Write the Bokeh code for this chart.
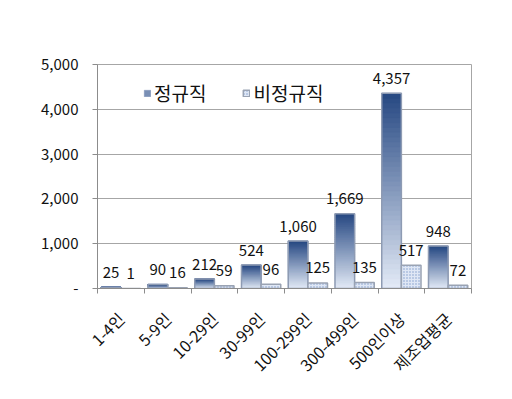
import math
from bokeh.plotting import figure
from bokeh.models import (ColumnDataSource, FixedTicker, NumeralTickFormatter,
                          Legend, LegendItem, Range1d)
from bokeh.core.properties import value
from bokeh.embed import file_html
from bokeh.resources import INLINE

categories = ["1-4인", "5-9인", "10-29인", "30-99인", "100-299인", "300-499인", "500인이상", "제조업평균"]
regular = [25, 90, 212, 524, 1060, 1669, 4357, 948]
irregular = [1, 16, 59, 96, 125, 135, 517, 72]
y_ticks = [0, 1000, 2000, 3000, 4000, 5000]

FONT = "Noto Sans CJK KR"
BAR_W = 0.42
N_SLICES = 40
TOP_RGB = (0x26, 0x48, 0x82)
BOT_RGB = (0xe4, 0xeb, 0xf7)

p = figure(width=496, height=397, output_backend="svg", toolbar_location=None,
           x_range=Range1d(0, len(categories)), y_range=Range1d(0, 5000),
           min_border_left=97, min_border_right=25, min_border_top=64, min_border_bottom=109)
p.outline_line_color = "#a6a6a6"
p.background_fill_color = "white"
p.border_fill_color = "white"

# gradient regular bars (built from the values)
L, R, B, T, C = [], [], [], [], []
for i, v in enumerate(regular):
    for k in range(N_SLICES):
        t = (k + 0.5) / N_SLICES
        col = tuple(int(round(BOT_RGB[j] + (TOP_RGB[j] - BOT_RGB[j]) * t)) for j in range(3))
        L.append(i + 0.5 - BAR_W)
        R.append(i + 0.5)
        B.append(v * k / N_SLICES)
        T.append(min(v, v * (k + 1) / N_SLICES + 20))
        C.append("#%02x%02x%02x" % col)
slices = p.quad(left=L, right=R, bottom=B, top=T, fill_color=C, line_color=C, line_width=0.5)

xs = [i + 0.5 for i in range(len(categories))]
reg_src = ColumnDataSource(dict(left=[x - BAR_W for x in xs], right=xs, top=regular,
                                bottom=[0] * len(xs), xc=[x - BAR_W / 2 for x in xs],
                                lab=[f"{v:,}" for v in regular]))
irr_src = ColumnDataSource(dict(left=xs, right=[x + BAR_W for x in xs], top=irregular,
                                bottom=[0] * len(xs), xc=[x + BAR_W / 2 for x in xs],
                                lab=[f"{v:,}" for v in irregular]))

p.quad(left="left", right="right", bottom="bottom", top="top", source=reg_src,
       fill_color=None, line_color="#8e9bb3", line_width=1.5)
irr = p.quad(left="left", right="right", bottom="bottom", top="top", source=irr_src,
             fill_color="#dfe7f5", line_color="#9aa3b3", line_width=1.5,
             hatch_pattern="dot", hatch_color="#7f9acb", hatch_scale=3, hatch_weight=1.2)

for src in (reg_src, irr_src):
    p.text(x="xc", y="top", text="lab", source=src, text_align="center",
           text_baseline="middle", y_offset=-15, text_font=value(FONT),
           text_font_size="15px", text_color="#111111")

legend = Legend(items=[LegendItem(label="정규직", renderers=[slices], index=6 * N_SLICES + 22),
                       LegendItem(label="비정규직", renderers=[irr], index=6)],
                orientation="horizontal", location=(46, 182),
                label_text_font=FONT, label_text_font_size="19px", label_text_color="#111111",
                glyph_width=8, glyph_height=8, label_standoff=3, spacing=36,
                padding=0, margin=0, border_line_color=None, background_fill_alpha=0)
p.add_layout(legend)

# axes
p.xgrid.grid_line_color = None
p.ygrid.grid_line_color = "#a6a6a6"
p.ygrid.ticker = FixedTicker(ticks=y_ticks)

p.yaxis.ticker = FixedTicker(ticks=y_ticks)
p.yaxis.formatter = NumeralTickFormatter(format="0,0")
p.yaxis.major_label_overrides = {0: "-"}
p.yaxis.axis_line_color = "#8c8c8c"
p.yaxis.major_tick_line_color = "#8c8c8c"
p.yaxis.major_tick_out = 5
p.yaxis.major_tick_in = 0
p.yaxis.minor_tick_line_color = None
p.yaxis.major_label_standoff = 14
p.yaxis.major_label_text_font = FONT
p.yaxis.major_label_text_font_size = "15px"
p.yaxis.major_label_text_color = "#111111"

p.xaxis.ticker = FixedTicker(ticks=xs, minor_ticks=list(range(len(categories) + 1)))
p.xaxis.major_label_overrides = {x: c for x, c in zip(xs, categories)}
p.xaxis.major_label_orientation = math.pi / 4
p.xaxis.axis_line_color = "#8c8c8c"
p.xaxis.major_tick_line_color = None
p.xaxis.minor_tick_line_color = "#8c8c8c"
p.xaxis.minor_tick_out = 5
p.xaxis.minor_tick_in = 0
p.xaxis.major_label_standoff = 21
p.xaxis.major_label_text_font = FONT
p.xaxis.major_label_text_font_size = "16px"
p.xaxis.major_label_text_color = "#111111"

open("out.html", "w").write(file_html(p, INLINE))
